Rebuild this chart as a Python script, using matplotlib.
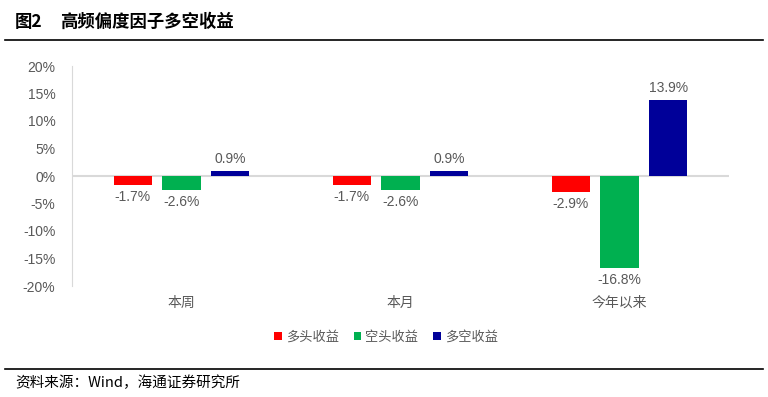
import matplotlib
matplotlib.use("Agg")
import matplotlib.pyplot as plt
from matplotlib.patches import Patch
from matplotlib.lines import Line2D
import numpy as np

plt.rcParams['font.family'] = ['Liberation Sans', 'Noto Sans CJK SC', 'DejaVu Sans']

categories = ['本周', '本月', '今年以来']
series_names = ['多头收益', '空头收益', '多空收益']
long_ret = [-1.7, -1.7, -2.9]
short_ret = [-2.6, -2.6, -16.8]
ls_ret = [0.9, 0.9, 13.9]
colors = ['#FF0000', '#00B050', '#000099']
yticks = [20, 15, 10, 5, 0, -5, -10, -15, -20]

fig = plt.figure(figsize=(7.68, 3.97), dpi=100)
ax = fig.add_axes([72/768, 1-286/397, 657/768, 220/397])

x = np.arange(len(categories))
bw = 0.176
step = 0.222
txtc = '#595959'
for i, (vals, c) in enumerate(zip([long_ret, short_ret, ls_ret], colors)):
    pos = x + (i-1)*step
    ax.bar(pos, vals, width=bw, color=c, edgecolor='none', zorder=3)
    for p, v in zip(pos, vals):
        if v >= 0:
            ax.text(p, v + 0.9, f'{v:.1f}%', ha='center', va='bottom', fontsize=10, color=txtc)
        else:
            ax.text(p, v - 0.9, f'{v:.1f}%', ha='center', va='top', fontsize=10, color=txtc)

ax.set_xlim(-0.5, 2.5)
ax.set_ylim(-20, 20)
ax.set_yticks(yticks)
ax.set_yticklabels([f'{t}%' for t in yticks], fontsize=10, color=txtc)
ax.set_xticks(x)
ax.set_xticklabels(categories, fontsize=10, color=txtc, family=['Noto Sans CJK SC'])
ax.tick_params(axis='both', length=0, pad=12)
ax.tick_params(axis='x', pad=7)
for s in ['top', 'right', 'bottom']:
    ax.spines[s].set_visible(False)
ax.spines['left'].set_color('#D9D9D9')
ax.axhline(0, color='#D9D9D9', lw=1.5, zorder=2)

handles = [Patch(facecolor=c, edgecolor='none') for c in colors]
leg = fig.legend(handles, series_names, loc='center', bbox_to_anchor=(386/768, 1-337/397),
                 ncol=3, frameon=False, handlelength=0.6, handleheight=0.6,
                 handletextpad=0.3, columnspacing=1.1, prop={'family': 'Noto Sans CJK SC', 'size': 9.5})
for t in leg.get_texts():
    t.set_color(txtc)

fig.add_artist(Line2D([5/768, 763/768], [1-40/397, 1-40/397], color='black', lw=1.2))
fig.add_artist(Line2D([5/768, 763/768], [1-369/397, 1-369/397], color='black', lw=1.2))
fig.text(15/768, 1-22/397, '图2', fontsize=12.5, fontweight='bold',
         va='center', ha='left', family=['Noto Sans CJK SC'])
fig.text(60/768, 1-22/397, '高频偏度因子多空收益', fontsize=12.5, fontweight='bold',
         va='center', ha='left', family=['Noto Sans CJK SC'])
fig.text(15/768, 1-383/397, '资料来源：Wind，海通证券研究所', fontsize=10.5, va='center', ha='left',
         family=['Noto Sans CJK SC'])

fig.savefig('out.png', dpi=100)
